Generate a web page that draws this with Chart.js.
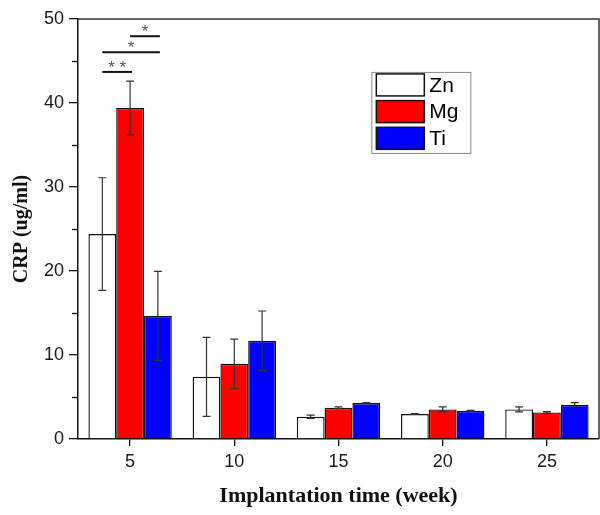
<!DOCTYPE html>
<html>
<head>
<meta charset="utf-8">
<script src="https://cdn.jsdelivr.net/npm/chart.js@4.4.1/dist/chart.umd.min.js"></script>
<style>
  html, body { margin: 0; padding: 0; background: #fff; }
  #wrap { width: 600px; height: 515px; }
</style>
</head>
<body>
<div id="wrap"><canvas id="c" width="600" height="515"></canvas></div>
<script>
// ---- data ----
const categories = ['5', '10', '15', '20', '25'];
const seriesNames = ['Zn', 'Mg', 'Ti'];
const znValues = [24.4, 7.4, 2.65, 2.97, 3.52];
const mgValues = [39.4, 8.95, 3.72, 3.52, 3.16];
const tiValues = [14.66, 11.69, 4.28, 3.36, 4.08];
const znErrors = [6.7, 4.7, 0.2, 0.05, 0.3];
const mgErrors = [3.2, 2.95, 0.1, 0.3, 0.1];
const tiErrors = [5.3, 3.55, 0.05, 0.05, 0.25];
const yTicks = [0, 10, 20, 30, 40, 50];
// significance brackets at first category: from series, to series, height (value units), label
const sigCategory = [0, 0, 0];
const sigFrom = [0, 0, 1];
const sigTo = [1, 2, 2];
const sigHeight = [43.7, 46.05, 47.95];
const sigLabel = ['* *', '*', '*'];

const errorsBySeries = [znErrors, mgErrors, tiErrors];

const extrasPlugin = {
  id: 'extras',
  afterDatasetsDraw(chart) {
    const ctx = chart.ctx;
    const ys = chart.scales.y;
    const ca = chart.chartArea;
    ctx.save();
    // error bars
    chart.data.datasets.forEach((ds, di) => {
      const meta = chart.getDatasetMeta(di);
      meta.data.forEach((el, i) => {
        const v = ds.data[i], e = errorsBySeries[di][i];
        const yt = ys.getPixelForValue(v + e);
        const yb = ys.getPixelForValue(v - e);
        ctx.strokeStyle = '#333';
        ctx.lineWidth = 1.2;
        ctx.beginPath();
        ctx.moveTo(el.x, yt); ctx.lineTo(el.x, yb);
        ctx.moveTo(el.x - 4, yt); ctx.lineTo(el.x + 4, yt);
        ctx.moveTo(el.x - 4, yb); ctx.lineTo(el.x + 4, yb);
        ctx.stroke();
      });
    });
    // significance brackets
    sigFrom.forEach((f, k) => {
      const c = sigCategory[k];
      const x1 = chart.getDatasetMeta(f).data[c].x;
      const x2 = chart.getDatasetMeta(sigTo[k]).data[c].x;
      const y = ys.getPixelForValue(sigHeight[k]);
      ctx.strokeStyle = '#111';
      ctx.lineWidth = 2;
      ctx.beginPath();
      ctx.moveTo(x1, y); ctx.lineTo(x2 + 2, y);
      ctx.stroke();
      ctx.fillStyle = '#555';
      ctx.font = '17px "Liberation Sans", Arial, sans-serif';
      ctx.textAlign = 'center';
      ctx.textBaseline = 'alphabetic';
      ctx.fillText(sigLabel[k], (x1 + x2 + 2) / 2, y + 1);
    });
    // frame top and right
    ctx.strokeStyle = '#333';
    ctx.lineWidth = 1.5;
    ctx.beginPath();
    ctx.moveTo(ca.left, ca.top); ctx.lineTo(ca.right, ca.top); ctx.lineTo(ca.right, ca.bottom);
    ctx.stroke();
    // minor y ticks
    ctx.strokeStyle = '#111';
    ctx.lineWidth = 1.3;
    for (let k = 0; k < yTicks.length - 1; k++) {
      const mv = (yTicks[k] + yTicks[k + 1]) / 2;
      const py = Math.round(ys.getPixelForValue(mv)) + 0.5;
      ctx.beginPath();
      ctx.moveTo(ca.left - 6, py); ctx.lineTo(ca.left, py);
      ctx.stroke();
    }
    // legend
    const lx = ca.left + (ca.right - ca.left) * 0.563;
    const ly = ca.top + (ca.bottom - ca.top) * 0.126;
    const bw = 99, rowH = 26.7, bh = 81;
    ctx.fillStyle = '#fff';
    ctx.fillRect(lx, ly, bw, bh);
    ctx.strokeStyle = '#888';
    ctx.lineWidth = 1;
    ctx.strokeRect(lx + 0.5, ly + 0.5, bw, bh);
    chart.data.datasets.forEach((ds, di) => {
      const sy = ly + 2 + di * rowH;
      ctx.fillStyle = ds.backgroundColor;
      ctx.fillRect(lx + 5, sy, 48, 22);
      ctx.strokeStyle = '#111';
      ctx.lineWidth = 1.5;
      ctx.strokeRect(lx + 5, sy, 48, 22);
      ctx.fillStyle = '#000';
      ctx.font = '21px "Liberation Sans", Arial, sans-serif';
      ctx.textAlign = 'left';
      ctx.textBaseline = 'middle';
      ctx.fillText(ds.label, lx + 58, sy + 12);
    });
    ctx.restore();
  }
};

const colors = ['#FFFFFF', '#FF0000', '#0000FF'];
const valuesBySeries = [znValues, mgValues, tiValues];

new Chart(document.getElementById('c'), {
  type: 'bar',
  data: {
    labels: categories,
    datasets: seriesNames.map((n, i) => ({
      label: n,
      data: valuesBySeries[i],
      backgroundColor: colors[i],
      borderColor: '#111',
      borderWidth: 1.4,
      categoryPercentage: 0.8,
      barPercentage: 1.0
    }))
  },
  options: {
    responsive: false,
    animation: false,
    layout: { padding: { top: 19, right: 1, left: 0, bottom: 0 } },
    plugins: { legend: { display: false }, tooltip: { enabled: false } },
    scales: {
      x: {
        offset: true,
        grid: { drawOnChartArea: false, offset: false, tickLength: 7, color: '#111', lineWidth: 1.3 },
        border: { color: '#111', width: 1.5 },
        ticks: { color: '#1a1a1a', padding: 5, font: { size: 18, family: '"Liberation Sans", Arial, sans-serif' } },
        title: { display: true, text: 'Implantation time (week)', color: '#111',
          font: { size: 22, weight: 'bold', family: '"Liberation Serif", "Times New Roman", serif' },
          padding: { top: 0, bottom: 5 } },
        afterFit(s) { s.height = 76; }
      },
      y: {
        min: 0, max: 50,
        afterBuildTicks(s) { s.ticks = yTicks.map(v => ({ value: v })); },
        grid: { drawOnChartArea: false, tickLength: 9, color: '#111', lineWidth: 1.3 },
        border: { color: '#111', width: 1.5 },
        ticks: { color: '#1a1a1a', padding: 5, font: { size: 18, family: '"Liberation Sans", Arial, sans-serif' } },
        title: { display: true, text: 'CRP (ug/ml)', color: '#111',
          font: { size: 20, weight: 'bold', family: '"Liberation Serif", "Times New Roman", serif' },
          padding: { top: 10, bottom: 0 } },
        afterFit(s) { s.width = 78; }
      }
    }
  },
  plugins: [extrasPlugin]
});
</script>
</body>
</html>
